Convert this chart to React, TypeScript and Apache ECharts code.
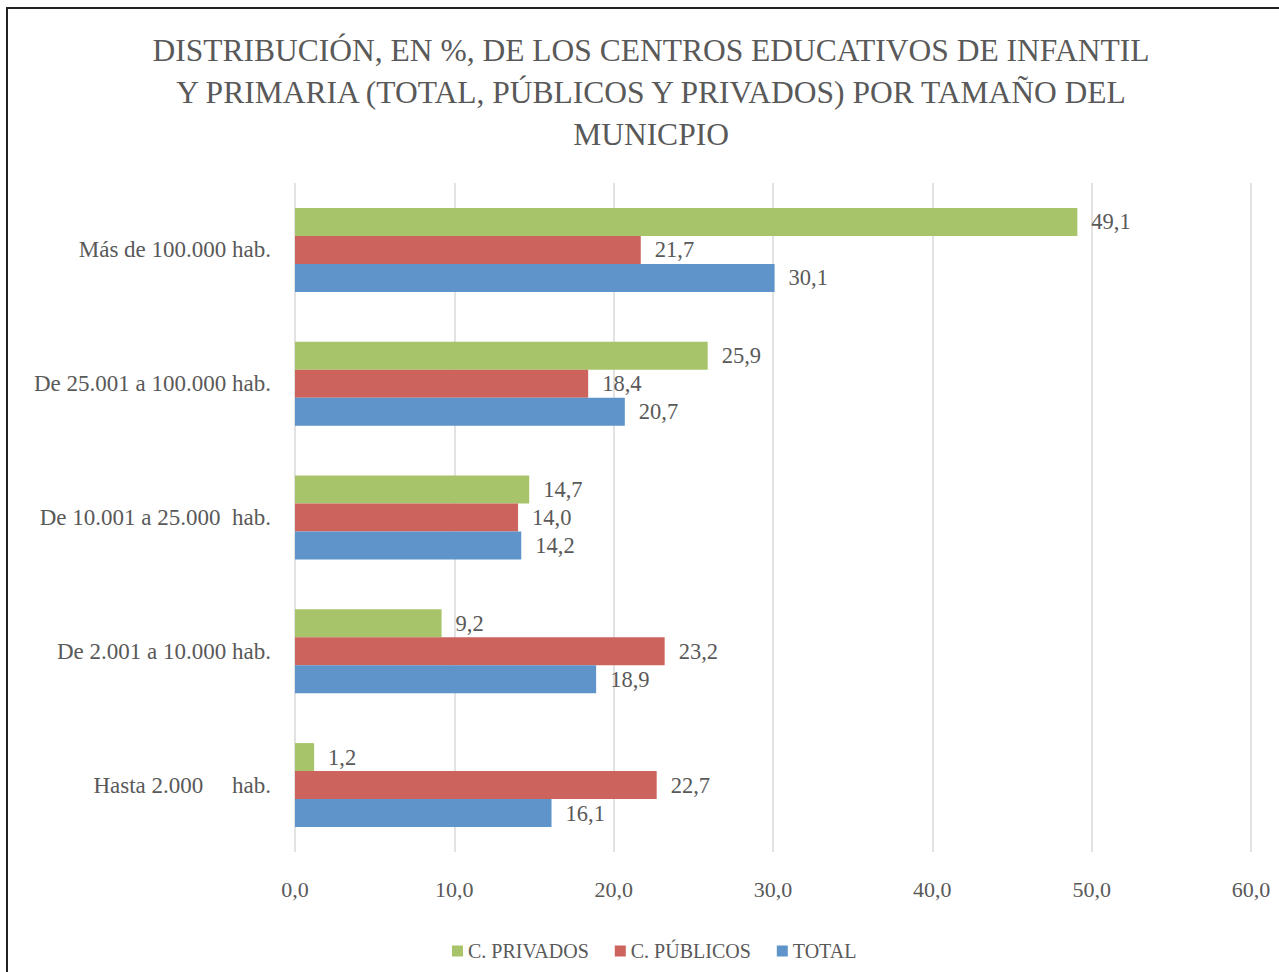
import React, { useEffect, useRef } from "react";
import * as echarts from "echarts";

const categories = [
  "Hasta 2.000     hab.",
  "De 2.001 a 10.000 hab.",
  "De 10.001 a 25.000  hab.",
  "De 25.001 a 100.000 hab.",
  "Más de 100.000 hab.",
];
const totalValues = [16.1, 18.9, 14.2, 20.7, 30.1];
const publicosValues = [22.7, 23.2, 14.0, 18.4, 21.7];
const privadosValues = [1.2, 9.2, 14.7, 25.9, 49.1];
const legendOrder = ["C. PRIVADOS", "C. PÚBLICOS", "TOTAL"];
const titleLines = [
  "DISTRIBUCIÓN, EN %, DE LOS CENTROS EDUCATIVOS DE INFANTIL",
  "Y PRIMARIA (TOTAL, PÚBLICOS Y PRIVADOS) POR TAMAÑO DEL",
  "MUNICPIO",
];

const FONT = "'Liberation Serif', 'DejaVu Serif', serif";
const TEXT = "#595959";
const fmt = (v: number) => v.toFixed(1).replace(".", ",");

export default function App() {
  const ref = useRef<HTMLDivElement>(null);
  useEffect(() => {
    if (!ref.current) return;
    const chart = echarts.init(ref.current, null, { renderer: "svg" });
    const label = {
      show: true,
      position: "right" as const,
      distance: 14,
      color: TEXT,
      fontFamily: FONT,
      fontSize: 22.5,
      formatter: (p: any) => fmt(p.value),
    };
    chart.setOption({
      animation: false,
      backgroundColor: "#ffffff",
      textStyle: { fontFamily: FONT, color: TEXT },
      graphic: [
        {
          type: "rect",
          shape: { x: 7, y: 8, width: 1300, height: 1000 },
          style: { fill: "none", stroke: "#222", lineWidth: 2 },
          silent: true,
        },
        {
          type: "text",
          x: 651,
          y: 92,
          style: {
            text: titleLines.join("\n"),
            align: "center",
            verticalAlign: "middle",
            lineHeight: 42,
            fontFamily: FONT,
            fontSize: 31.5,
            fill: TEXT,
          },
        },
      ],
      legend: {
        data: legendOrder,
        left: 452,
        top: 941,
        padding: 0,
        itemWidth: 11,
        itemHeight: 11,
        itemGap: 26,
        icon: "rect",
        textStyle: { fontFamily: FONT, fontSize: 20, color: TEXT },
      },
      grid: { left: 295, right: 28, top: 183, bottom: 120, containLabel: false },
      xAxis: {
        type: "value",
        min: 0,
        max: 60,
        interval: 10,
        axisLine: { show: false },
        axisTick: { show: false },
        splitLine: { show: true, lineStyle: { color: "#d9d9d9", width: 1.5 } },
        axisLabel: {
          margin: 26,
          color: TEXT,
          fontFamily: FONT,
          fontSize: 22,
          formatter: (v: number) => fmt(v),
        },
      },
      yAxis: {
        type: "category",
        data: categories,
        axisLine: { show: false },
        axisTick: { show: false },
        axisLabel: { margin: 24, color: TEXT, fontFamily: FONT, fontSize: 23 },
      },
      series: [
        {
          name: "C. PRIVADOS",
          type: "bar",
          data: privadosValues,
          barWidth: 28,
          barGap: "0%",
          itemStyle: { color: "#a8c46b" },
          label,
        },
        {
          name: "C. PÚBLICOS",
          type: "bar",
          data: publicosValues,
          barWidth: 28,
          barGap: "0%",
          itemStyle: { color: "#cc635c" },
          label,
        },
        {
          name: "TOTAL",
          type: "bar",
          data: totalValues,
          barWidth: 28,
          barGap: "0%",
          itemStyle: { color: "#5e94c9" },
          label,
        },
      ],
    });
    return () => chart.dispose();
  }, []);
  return (
    <div
      ref={ref}
      style={{ position: "fixed", left: 0, top: 0, width: 1279, height: 972, background: "#fff" }}
    />
  );
}
